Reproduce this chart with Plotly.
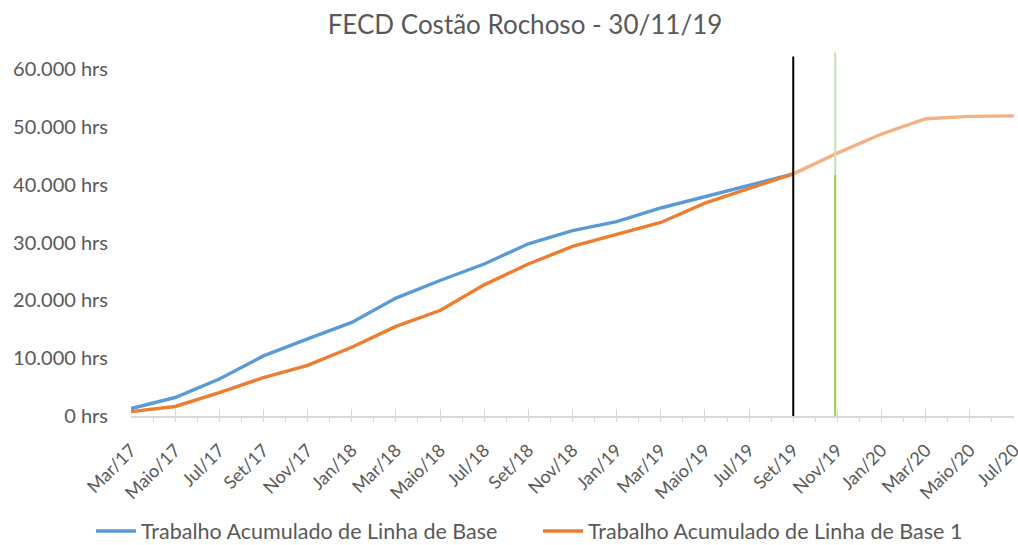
import plotly.graph_objects as go

# Two-month tick labels (Mar/17 .. Jul/20)
labels = ["Mar/17", "Maio/17", "Jul/17", "Set/17", "Nov/17", "Jan/18", "Mar/18",
          "Maio/18", "Jul/18", "Set/18", "Nov/18", "Jan/19", "Mar/19", "Maio/19",
          "Jul/19", "Set/19", "Nov/19", "Jan/20", "Mar/20", "Maio/20", "Jul/20"]

# Cumulative hours
baseline = [1300, 3200, 6400, 10400, 13350, 16200, 20400, 23450, 26300, 29800,
            32100, 33650, 36000, 38000, 40000, 41900]
baseline1 = [750, 1650, 4050, 6650, 8750, 11900, 15500, 18250, 22700, 26300,
             29350, 31400, 33500, 36850, 39450, 41900]
projection_labels = ["Set/19", "Nov/19", "Jan/20", "Mar/20", "Maio/20", "Jul/20"]
projection = [41900, 45500, 48800, 51450, 51850, 51950]

status_date = "Set/19"
report_date = "Nov/19"

yticks = [0, 10000, 20000, 30000, 40000, 50000, 60000]
yticktext = ["0 hrs", "10.000 hrs", "20.000 hrs", "30.000 hrs", "40.000 hrs",
             "50.000 hrs", "60.000 hrs"]

pos = {lab: 2 * i for i, lab in enumerate(labels)}
font = "Lato"
grey = "#595959"

fig = go.Figure()
fig.add_trace(go.Scatter(
    x=[pos[l] for l in labels[:len(baseline)]], y=baseline, mode="lines",
    name="Trabalho Acumulado de Linha de Base", legend="legend",
    line=dict(color="#5b9bd5", width=3.4)))
fig.add_trace(go.Scatter(
    x=[pos[l] for l in labels[:len(baseline1)]], y=baseline1, mode="lines",
    name="Trabalho Acumulado de Linha de Base 1", legend="legend2",
    line=dict(color="#ed7d31", width=3.4)))
fig.add_trace(go.Scatter(
    x=[pos[l] for l in projection_labels], y=projection, mode="lines",
    showlegend=False, line=dict(color="#f4b183", width=3.4)))

xs = pos[status_date]
xr = pos[report_date] - 0.1
fig.add_shape(type="line", xref="x", yref="y", x0=xs, x1=xs, y0=-600, y1=62200,
              line=dict(color="#000000", width=2), layer="above")
fig.add_shape(type="line", xref="x", yref="y", x0=xr, x1=xr, y0=0, y1=41800,
              line=dict(color="#92d050", width=2), layer="above")
fig.add_shape(type="line", xref="x", yref="y", x0=xr, x1=xr, y0=41800, y1=62900,
              line=dict(color="#c5e0b4", width=2), layer="above")

leg_common = dict(orientation="h", xref="container", yref="container",
                  xanchor="left", y=1 - 531 / 545, yanchor="middle",
                  font=dict(size=21.5, color=grey), itemwidth=40,
                  bgcolor="rgba(0,0,0,0)")

fig.update_layout(
    width=1018, height=545,
    margin=dict(l=131, r=4, t=52, b=129, autoexpand=False),
    paper_bgcolor="white", plot_bgcolor="white",
    font=dict(family=font, color=grey),
    title=dict(text="FECD Costão Rochoso - 30/11/19", x=525 / 1018, xanchor="center",
               y=1 - 25 / 545, yanchor="middle", font=dict(size=26, color=grey)),
    showlegend=True,
    legend=dict(x=91 / 1018, **leg_common),
    legend2=dict(x=538 / 1018, **leg_common),
    xaxis=dict(range=[-0.001, 40.001], tickmode="array",
               tickvals=[pos[l] for l in labels], ticktext=labels,
               tickangle=-45, tickfont=dict(size=18, color=grey),
               ticks="inside", ticklen=7, tickcolor="#d9d9d9", tickwidth=1,
               ticklabelstandoff=15, ticklabeloverflow="allow",
               minor=dict(dtick=1, tick0=0, ticks="outside", ticklen=4,
                          tickcolor="#d9d9d9", showgrid=False),
               showline=True, linecolor="#d9d9d9", linewidth=1.5,
               showgrid=False, zeroline=False, automargin=False),
    yaxis=dict(range=[0, 63000], tickmode="array", tickvals=yticks,
               ticktext=yticktext, tickfont=dict(size=20, color=grey),
               ticklabelstandoff=22, automargin=False,
               showgrid=False, zeroline=False, showline=False, ticks=""),
)

fig.write_html("out.html", config={"displayModeBar": False},
               post_script="document.body.style.margin='0';document.body.style.overflow='hidden';")
